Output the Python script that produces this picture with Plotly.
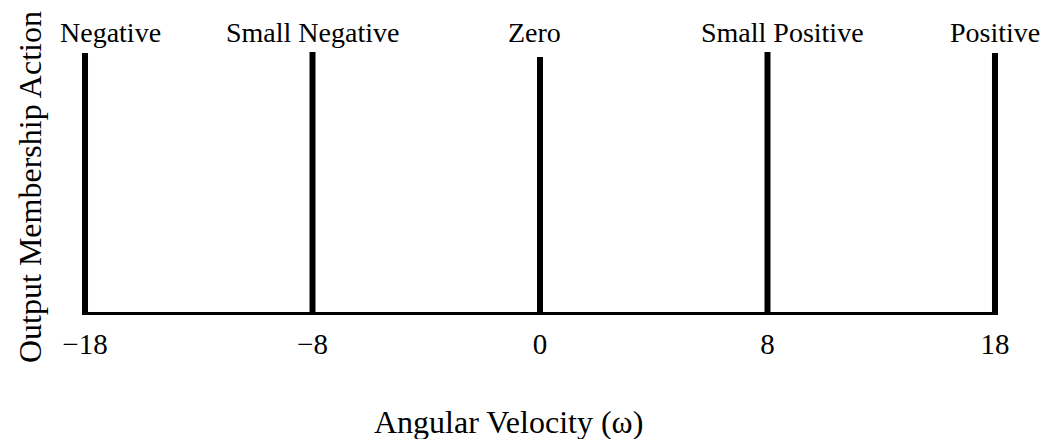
import plotly.graph_objects as go

# Data
categories = ["\u221218", "\u22128", "0", "8", "18"]
set_labels = ["Negative", "Small Negative", "Zero", "Small Positive", "Positive"]
membership = [0.996, 1.0, 0.981, 1.0, 0.996]
label_xshift = [25, 0, -6, 15, 0]

FONT = "Liberation Serif, Times New Roman, serif"

# page body has an 8px margin, so the figure is sized to fit inside the window
W, H = 1055, 431
ML, MR, MT, MB = 62, 53, 44, 124
PW, PH = W - ML - MR, H - MT - MB


def px(x):
    return (x - ML) / PW


def py(y):
    return (H - MB - y) / PH


fig = go.Figure()

# baseline
fig.add_trace(go.Scatter(
    x=[categories[0], categories[-1]], y=[0, 0], mode="lines",
    line=dict(color="black", width=6), hoverinfo="skip", showlegend=False))

# singleton stems
sx, sy = [], []
for c, m in zip(categories, membership):
    sx += [c, c, None]
    sy += [0, m, None]
fig.add_trace(go.Scatter(
    x=sx, y=sy, mode="lines", line=dict(color="black", width=6),
    hoverinfo="skip", showlegend=False, connectgaps=False))

annotations = []
for i, (m, lab, dx) in enumerate(zip(membership, set_labels, label_xshift)):
    annotations.append(dict(x=i, y=1.0, xref="x", yref="y", text=lab,
                            showarrow=False, yanchor="bottom", xanchor="center",
                            xshift=dx, yshift=2, font=dict(family=FONT, size=28, color="black")))

annotations.append(dict(x=px(500), y=py(414), xref="paper", yref="paper",
                        text="Angular Velocity (\u03c9)", showarrow=False,
                        xanchor="center", yanchor="middle",
                        font=dict(family=FONT, size=32, color="black")))
annotations.append(dict(x=px(22), y=py(179), xref="paper", yref="paper",
                        text="Output Membership Action", showarrow=False, textangle=-90,
                        xanchor="center", yanchor="middle",
                        font=dict(family=FONT, size=32, color="black")))

fig.update_layout(
    width=W, height=H,
    margin=dict(l=ML, r=MR, t=MT, b=MB),
    plot_bgcolor="white", paper_bgcolor="white",
    font=dict(family=FONT, size=29, color="black"),
    showlegend=False,
    xaxis=dict(type="category", categoryorder="array", categoryarray=categories,
               range=[-0.066, 4.066], showgrid=False, zeroline=False, showline=False,
               automargin=False, ticks="", ticklabelstandoff=9,
               tickfont=dict(family=FONT, size=29, color="black")),
    yaxis=dict(range=[0, 1], showgrid=False, zeroline=False, showline=False,
               automargin=False, showticklabels=False, ticks=""),
    annotations=annotations,
)

fig.write_html("out.html")
